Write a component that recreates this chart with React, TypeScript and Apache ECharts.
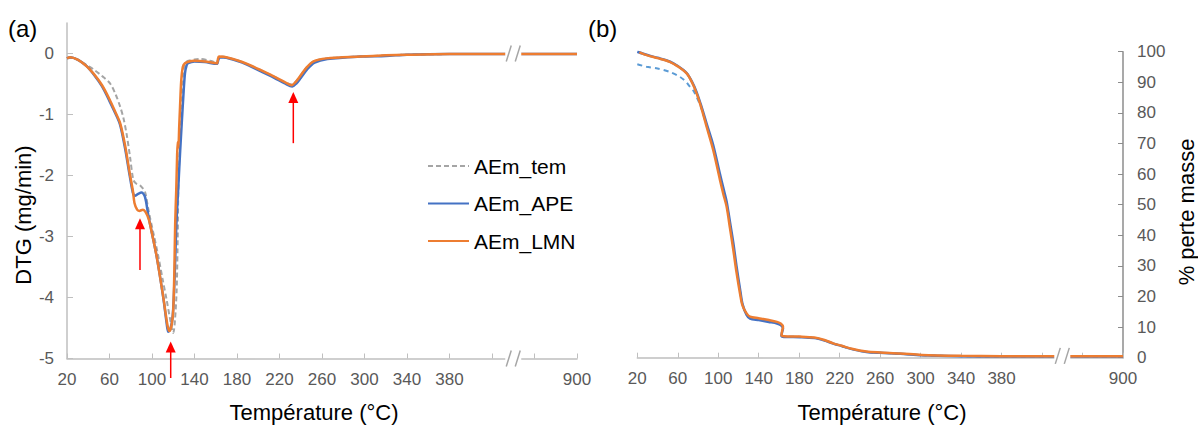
import React, { useEffect, useRef } from 'react';
import * as echarts from 'echarts';

const FONT = "'Liberation Sans', Arial, Helvetica, sans-serif";

// Legend / series names
const seriesNames = ['AEm_tem', 'AEm_APE', 'AEm_LMN'];

// Panel (a): DTG (mg/min) vs temperature (°C)
const dtgTem: number[][] = [
  [20, -0.08], [25, -0.07], [32, -0.12], [38.5, -0.19], [45, -0.26], [53, -0.37], [60.5, -0.49],
  [66, -0.68], [70, -0.87], [73, -1.05], [76, -1.31], [79.3, -1.69], [82.4, -2.07], [85, -2.13],
  [88.7, -2.16], [93.4, -2.27], [96, -2.5], [98, -2.68], [102, -3.0], [106, -3.33], [110, -3.7],
  [113.8, -4.04], [117, -4.35], [120, -4.58], [121.5, -4.4], [123.2, -3.88], [124.2, -3.0],
  [124.8, -2.24], [126, -1.6], [127.5, -0.9], [129.5, -0.3], [132, -0.14], [140, -0.1], [145, -0.09],
  [155, -0.12], [161, -0.15], [162.5, -0.08], [165, -0.05], [170, -0.06], [185, -0.14], [202, -0.27],
  [215, -0.38], [225, -0.47], [231.5, -0.51], [235, -0.47], [239, -0.38], [245, -0.24], [252, -0.13],
  [264, -0.08], [296, -0.05], [320, -0.03], [340, -0.02], [380, -0.01], [433, -0.01], [450, -0.01], [900, -0.01],
];
const dtgAPE: number[][] = [
  [20, -0.08], [23, -0.06], [30, -0.1], [38, -0.2], [45, -0.34], [53, -0.54], [60, -0.78], [66, -1.0],
  [70, -1.17], [74.6, -1.55], [79, -2.0], [82, -2.28], [84, -2.33], [87, -2.3], [90.3, -2.28],
  [93.4, -2.35], [96.5, -2.65], [100, -2.95], [104.4, -3.33], [110.6, -4.0], [114, -4.45], [115.3, -4.56],
  [117.5, -4.5], [119.5, -4.3], [121, -3.8], [122, -3.3], [123, -2.78], [124.8, -2.18], [126.5, -1.6],
  [128, -1.14], [129.5, -0.7], [131, -0.33], [132.5, -0.2], [134, -0.16], [140, -0.13], [150, -0.14],
  [161, -0.17], [162.5, -0.1], [164, -0.06], [170, -0.07], [185, -0.15], [202, -0.29], [215, -0.4],
  [225, -0.49], [232, -0.54], [236, -0.49], [240, -0.4], [246, -0.26], [253, -0.15], [265, -0.09],
  [296, -0.05], [320, -0.04], [340, -0.02], [380, -0.01], [433, -0.01], [450, -0.01], [900, -0.01],
];
const dtgLMN: number[][] = [
  [20, -0.08], [23, -0.06], [30, -0.1], [38, -0.2], [45, -0.33], [53, -0.52], [60, -0.75], [66, -0.98],
  [70, -1.14], [74.6, -1.5], [79, -1.96], [82, -2.25], [83.5, -2.45], [86, -2.56], [88, -2.58],
  [91.5, -2.56], [94, -2.6], [97, -2.72], [100, -2.95], [104.4, -3.33], [110.6, -3.99], [114.5, -4.45],
  [116.3, -4.55], [118.5, -4.45], [120, -4.2], [121, -3.6], [121.8, -2.8], [122.8, -2.25], [123.6, -1.7],
  [124.2, -1.45], [124.8, -1.55], [125.6, -1.2], [126.4, -0.87], [127.5, -0.45], [129, -0.22],
  [131, -0.16], [135, -0.13], [140, -0.12], [150, -0.13], [161, -0.16], [162, -0.1], [163, -0.05],
  [170, -0.06], [185, -0.14], [202, -0.27], [215, -0.38], [225, -0.47], [231.5, -0.52], [235, -0.47],
  [239, -0.38], [245, -0.24], [252, -0.13], [264, -0.08], [296, -0.05], [320, -0.03], [340, -0.02],
  [380, -0.01], [433, -0.01], [450, -0.01], [900, -0.01],
];

// Panel (b): % perte masse vs temperature (°C)
const massTem: number[][] = [
  [20, 95.9], [29, 95.1], [40, 94.5], [52, 93.4], [62, 91.8], [68, 90.2], [71.9, 88.6], [75.3, 87.3],
  [78.6, 85.2], [83, 81.8], [88.5, 75.8], [95, 68.6], [101.7, 59], [105, 54.5], [108.3, 50.2],
  [111.5, 43.5], [114.9, 36.3], [118, 29], [121.5, 21.8], [124, 17.2], [128, 14.2], [131.4, 13.1],
  [140, 12.6], [150, 12], [158, 11.4], [162, 10.8], [164, 9.8], [163, 8.3], [162.5, 7.2], [165, 6.9],
  [181, 6.8], [195, 6.5], [205, 5.7], [213.6, 4.6], [222, 3.8], [232, 2.8], [246.5, 1.9], [260, 1.6],
  [280, 1.3], [301, 0.8], [340, 0.5], [380, 0.4], [433, 0.4], [450, 0.4], [900, 0.4],
];
const massAPE: number[][] = [
  [20, 100], [30, 98.9], [40, 98], [52, 96.8], [60, 95.3], [68.8, 93], [74, 90.2], [78.6, 86.8],
  [83, 82.5], [88.5, 76.5], [95, 69.5], [101.7, 60], [105, 55.5], [108.3, 51], [111.5, 44.5],
  [114.9, 37.5], [118, 30], [121.5, 22.5], [124, 17.5], [128, 14], [131.4, 12.8], [140, 12.3],
  [150, 11.7], [158, 11.2], [162, 10.6], [164, 9.6], [163, 8.2], [162.5, 7.1], [165, 6.8], [181, 6.7],
  [195, 6.4], [205, 5.6], [213.6, 4.6], [222, 3.8], [232, 2.8], [246.5, 1.9], [260, 1.6], [280, 1.3],
  [301, 0.8], [340, 0.5], [380, 0.4], [433, 0.4], [450, 0.4], [900, 0.4],
];
const massLMN: number[][] = [
  [22, 99.8], [30, 98.8], [40, 97.9], [52, 96.7], [60, 95.2], [68.8, 92.9], [74, 90], [78.6, 86.4],
  [83, 82], [88.5, 75.5], [95, 67.9], [101.7, 58.1], [105, 53.5], [108.3, 49.3], [111.5, 42.5],
  [114.9, 35.2], [118, 28], [121.5, 21], [124, 17], [128, 14.5], [131.4, 13.4], [140, 12.9],
  [150, 12.3], [158, 11.7], [162, 11.1], [164, 10.1], [163, 8.5], [162.5, 7.4], [165, 7.0], [181, 6.9],
  [195, 6.6], [205, 5.8], [213.6, 4.7], [222, 3.9], [232, 2.9], [246.5, 2.0], [260, 1.7], [280, 1.4],
  [301, 0.9], [340, 0.6], [380, 0.5], [433, 0.5], [450, 0.5], [900, 0.5],
];

// Tick labels of the broken temperature axis (one per 40-unit step)
const xTickLabels = ['20', '60', '100', '140', '180', '220', '260', '300', '340', '380', '', '', '900'];
const dtgTicks = [-5, -4, -3, -2, -1, 0];

// Red annotation arrows on panel (a): [temperature, tip value, tail value]
const arrows: number[][] = [
  [88.7, -2.7, -3.55],
  [117.6, -4.72, -5.32],
  [233, -0.63, -1.47],
];

// Axis break: temperatures up to ~440 °C are linear, then compressed to 900 °C
const toAxis = (t: number) => (t <= 440 ? t - 20 : 430 + ((t - 450) * 50) / 450);
const BREAK_AT = 420; // axis units

const AXIS_GREY = '#BFBFBF';
const LABEL_GREY = '#595959';

export default function App() {
  const ref = useRef<HTMLDivElement>(null);

  useEffect(() => {
    if (!ref.current) return;
    const chart = echarts.init(ref.current, undefined, { renderer: 'svg' });

    const xAxisBase = (gridIndex: number) => ({
      type: 'value',
      gridIndex,
      min: 0,
      max: 480,
      interval: 40,
      position: 'bottom',
      axisLine: { show: true, onZero: false, lineStyle: { color: AXIS_GREY, width: 1.5 } },
      axisTick: { show: true, inside: true, length: 5, lineStyle: { color: AXIS_GREY } },
      splitLine: { show: false },
      axisLabel: {
        color: LABEL_GREY,
        fontSize: 17,
        fontFamily: FONT,
        margin: 12,
        showMinLabel: true,
        showMaxLabel: true,
        formatter: (v: number) => xTickLabels[Math.round(v / 40)] ?? '',
      },
    });

    const mk = (d: number[][]) => d.map(([t, v]) => [toAxis(t), v]);
    const line = (name: string, data: number[][], ax: number, color: string, width: number, dash?: number[]) => ({
      name,
      type: 'line',
      xAxisIndex: ax,
      yAxisIndex: ax,
      data: mk(data),
      symbol: 'none',
      showSymbol: false,
      smooth: 0.3,
      lineStyle: { color, width, type: dash ?? 'solid' },
      itemStyle: { color },
      z: 2,
    });

    chart.setOption({
      animation: false,
      backgroundColor: '#ffffff',
      textStyle: { fontFamily: FONT },
      grid: [
        { left: 67, top: 23, width: 510, height: 335.5 },
        { left: 637.3, top: 51.7, width: 485.7, height: 306 },
      ],
      xAxis: [xAxisBase(0), xAxisBase(1)],
      yAxis: [
        {
          type: 'value',
          gridIndex: 0,
          min: -5,
          max: 0.5,
          position: 'left',
          axisLine: { show: true, onZero: false, lineStyle: { color: AXIS_GREY, width: 1.5 } },
          axisTick: { show: true, inside: true, length: 6, customValues: dtgTicks, lineStyle: { color: AXIS_GREY } },
          axisLabel: { customValues: dtgTicks, color: LABEL_GREY, fontSize: 17, fontFamily: FONT, margin: 13 },
          splitLine: { show: false },
        },
        {
          type: 'value',
          gridIndex: 1,
          min: 0,
          max: 100,
          interval: 10,
          position: 'right',
          axisLine: { show: true, onZero: false, lineStyle: { color: '#8C8C8C', width: 1.5 } },
          axisTick: { show: true, inside: true, length: 5, lineStyle: { color: '#8C8C8C' } },
          axisLabel: { color: LABEL_GREY, fontSize: 17, fontFamily: FONT, margin: 14 },
          splitLine: { show: false },
        },
      ],
      legend: {
        data: seriesNames,
        orient: 'vertical',
        left: 427,
        top: 155,
        padding: 0,
        itemWidth: 41,
        itemHeight: 14,
        itemGap: 15.5,
        itemStyle: { opacity: 0, borderWidth: 0 },
        textStyle: { color: '#000000', fontSize: 21, lineHeight: 22, fontFamily: FONT },
        selectedMode: false,
      },
      series: [
        line(seriesNames[0], dtgTem, 0, '#A5A5A5', 2, [5, 3]),
        line(seriesNames[1], dtgAPE, 0, '#4472C4', 2.5),
        line(seriesNames[2], dtgLMN, 0, '#ED7D31', 2.5),
        line('AEm_tem (b)', massTem, 1, '#5B9BD5', 2, [5, 4]),
        line('AEm_APE (b)', massAPE, 1, '#4472C4', 2.5),
        line('AEm_LMN (b)', massLMN, 1, '#ED7D31', 2.5),
      ],
    });

    const px = (g: number, p: number[]) => chart.convertToPixel({ gridIndex: g } as any, p) as number[];
    const graphics: any[] = [];

    // axis-break marks on the data lines and on the x axes
    const breakMark = (g: number, yVal: number) => {
      const [cx, cy] = px(g, [BREAK_AT, yVal]);
      graphics.push({ type: 'rect', z: 100, shape: { x: cx - 8, y: cy - 12, width: 16, height: 24 }, style: { fill: '#ffffff' } });
      [[-7, -2], [2, 7]].forEach(([a, b]) => {
        graphics.push({
          type: 'line', z: 101,
          shape: { x1: cx + a, y1: cy + 8, x2: cx + b, y2: cy - 8 },
          style: { stroke: '#A6A6A6', lineWidth: 1.5 },
        });
      });
    };
    breakMark(0, 0);
    breakMark(0, -5);
    breakMark(1, 0.6);

    // red arrows
    arrows.forEach(([t, tip, tail]) => {
      const [x, y1] = px(0, [toAxis(t), tip]);
      const [, y2] = px(0, [toAxis(t), tail]);
      graphics.push({ type: 'line', z: 100, shape: { x1: x, y1: y1 + 8, x2: x, y2 }, style: { stroke: '#FF0000', lineWidth: 1.5 } });
      graphics.push({
        type: 'polygon', z: 100,
        shape: { points: [[x, y1], [x - 5, y1 + 11], [x + 5, y1 + 11]] },
        style: { fill: '#FF0000' },
      });
    });

    const txt = (text: string, x: number, y: number, size: number, rotation = 0, align = 'center') => ({
      type: 'text', z: 100, x, y, rotation,
      style: { text, fill: '#000000', fontSize: size, fontFamily: FONT, textAlign: align, textVerticalAlign: 'middle' },
    });
    graphics.push(txt('(a)', 8, 28, 24, 0, 'left'));
    graphics.push(txt('(b)', 588, 28, 24, 0, 'left'));
    graphics.push(txt('Température (°C)', 314, 412, 22));
    graphics.push(txt('Température (°C)', 882, 412, 22));
    graphics.push(txt('DTG (mg/min)', 23, 215, 22, Math.PI / 2));
    graphics.push(txt('% perte masse', 1186, 212, 22, Math.PI / 2));

    chart.setOption({ graphic: graphics });

    return () => chart.dispose();
  }, []);

  return <div ref={ref} style={{ position: 'fixed', left: 0, top: 0, width: 1198, height: 425, background: '#fff' }} />;
}
